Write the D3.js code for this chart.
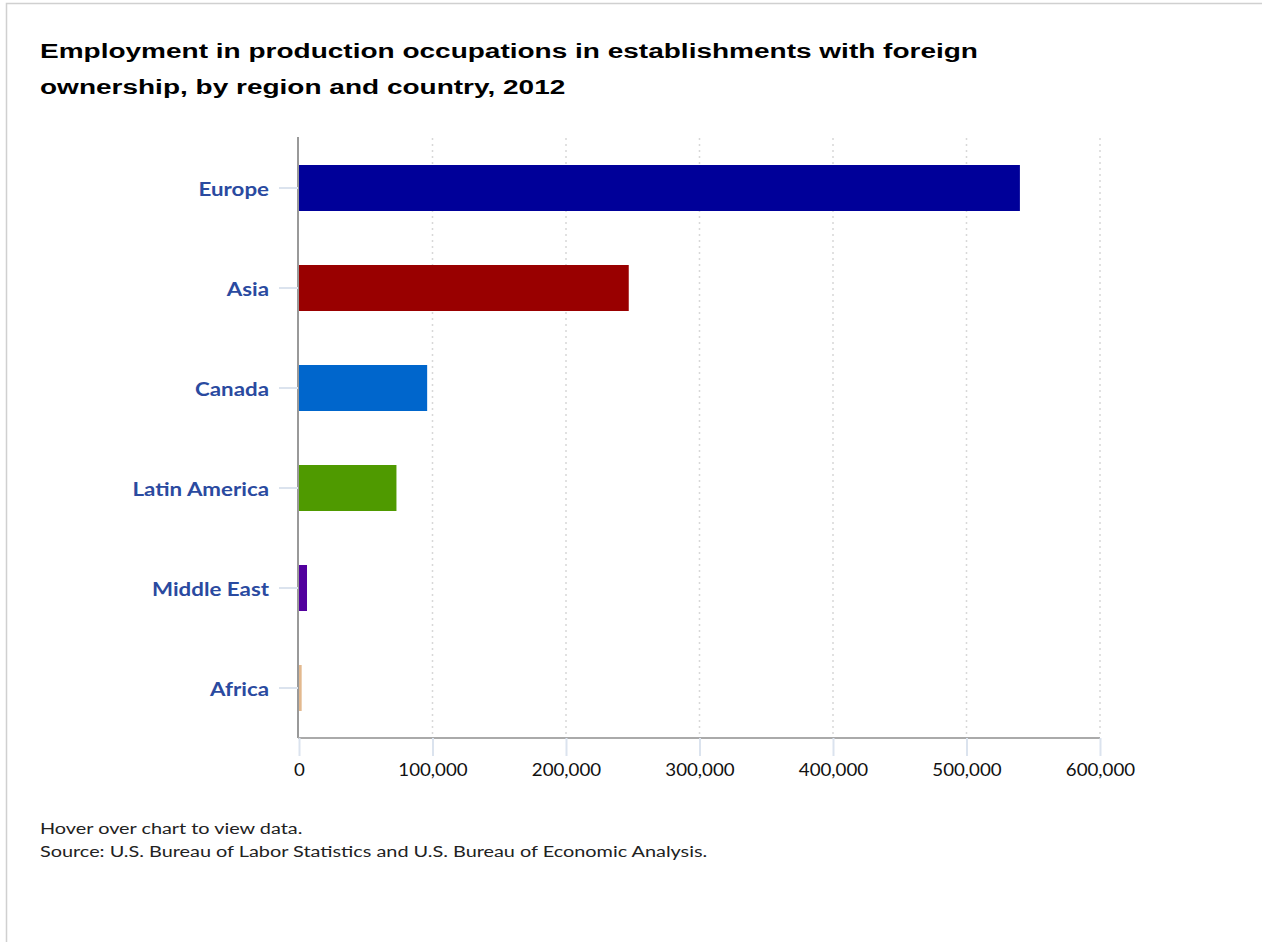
<!DOCTYPE html>
<html><head><meta charset="utf-8">
<script src="https://cdn.jsdelivr.net/npm/d3@7"></script>
<style>
html,body{margin:0;padding:0;background:#fff;}
svg{display:block;}
</style></head>
<body>
<svg id="chart" width="1262" height="942"></svg>
<script>
const categories = ["Europe","Asia","Canada","Latin America","Middle East","Africa"];
const values = [540000, 247000, 96000, 73000, 6000, 2000];
const barColors = ["#000099","#990000","#0066cc","#4f9a00","#52009e","#e3b98f"];
const xTicks = [0,100000,200000,300000,400000,500000,600000];
const titleLines = ["Employment in production occupations in establishments with foreign","ownership, by region and country, 2012"];
const notes = ["Hover over chart to view data.","Source: U.S. Bureau of Labor Statistics and U.S. Bureau of Economic Analysis."];

const svg = d3.select("#chart");
// frame
svg.append("rect").attr("x",6.5).attr("y",3.5).attr("width",1270).attr("height",960)
  .attr("fill","none").attr("stroke","#d0d0d0").attr("stroke-width",1.5);

const titleScale = 1.40;
svg.append("g").attr("transform",`translate(40,0) scale(${titleScale},1)`)
  .selectAll("text").data(titleLines).join("text")
  .attr("x",0).attr("y",(d,i)=>58+i*36)
  .attr("font-family","'Liberation Sans', Arial, sans-serif").attr("font-weight","bold")
  .attr("font-size",20).attr("fill","#000").text(d=>d);

const pL=299, pR=1100, pT=138, pB=738;
const x = d3.scaleLinear().domain([0,600000]).range([pL,pR]);
const y = d3.scaleBand().domain(categories).range([pT,pB]).paddingInner(0.54).paddingOuter(0.27);

// grid
svg.append("g").selectAll("line").data(xTicks.slice(1)).join("line")
  .attr("x1",d=>x(d)).attr("x2",d=>x(d)).attr("y1",pT).attr("y2",pB)
  .attr("stroke","#d8d8d8").attr("stroke-width",1.5).attr("stroke-dasharray","2,4");

// bars
svg.append("g").selectAll("rect").data(values).join("rect")
  .attr("x",x(0)).attr("y",(d,i)=>y(categories[i]))
  .attr("width",d=>x(d)-x(0)).attr("height",y.bandwidth())
  .attr("fill",(d,i)=>barColors[i]);

// y axis
const yScaleX = 1.24;
const yAxis = svg.append("g").attr("transform",`translate(${pL-1},0)`)
  .call(d3.axisLeft(y).tickSize(19).tickPadding(10));
yAxis.select(".domain").attr("stroke","#999").attr("stroke-width",2).attr("d",`M0,${pT-1}V${pB}`);
yAxis.selectAll(".tick line").attr("stroke","#dbe3ee").attr("stroke-width",2);
yAxis.selectAll(".tick text").attr("font-family","Lato, 'Open Sans', sans-serif").attr("font-weight","bold")
  .attr("font-size",18).attr("fill","#2a4aa0")
  .attr("x",-29/yScaleX).attr("dy","0.45em").attr("transform",`scale(${yScaleX},1)`);

// x axis
const xScaleX = 1.1;
const xAxis = svg.append("g").attr("transform",`translate(0,${pB})`)
  .call(d3.axisBottom(x).tickValues(xTicks).tickFormat(d3.format(",")).tickSize(18).tickPadding(8));
xAxis.select(".domain").attr("stroke","#aaa").attr("stroke-width",2).attr("d",`M${pL-1},0H${pR}`);
xAxis.selectAll(".tick line").attr("stroke","#dbe3ee").attr("stroke-width",2);
xAxis.selectAll(".tick text").attr("font-family","Lato, 'Open Sans', sans-serif")
  .attr("font-size",17).attr("fill","#111").attr("transform",`scale(${xScaleX},1)`);

const noteScale = 1.37;
svg.append("g").attr("transform",`translate(40,0) scale(${noteScale},1)`)
  .selectAll("text").data(notes).join("text")
  .attr("x",0).attr("y",(d,i)=>834+i*23)
  .attr("font-family","Lato, 'Open Sans', sans-serif").attr("font-size",14.5).attr("fill","#222").text(d=>d);
</script>
</body></html>
